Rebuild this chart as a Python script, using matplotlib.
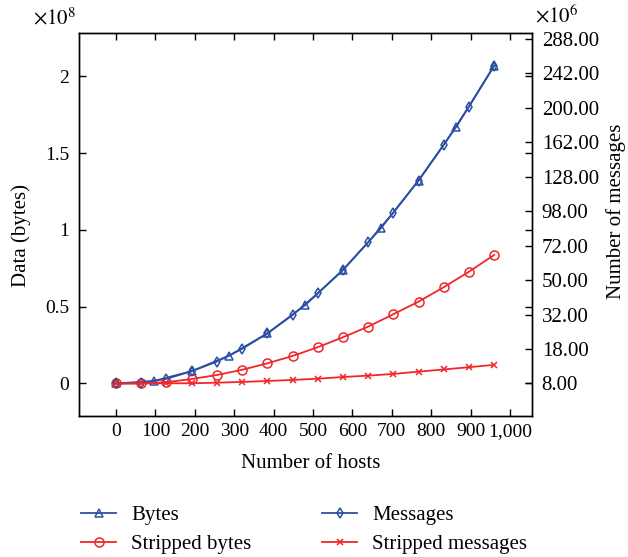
import numpy as np
import matplotlib
matplotlib.use('Agg')
import matplotlib.pyplot as plt
from matplotlib.ticker import FixedLocator, FuncFormatter

plt.rcParams['font.family'] = ['Liberation Serif', 'DejaVu Serif']
plt.rcParams['mathtext.fontset'] = 'stix'
plt.rcParams['font.size'] = 15

# hosts
hosts_bytes = [0, 96, 192, 288, 384, 480, 576, 672, 768, 864, 960]
hosts_msgs = [0, 64, 128, 192, 256, 320, 384, 448, 512, 576, 640, 704, 768, 832, 896, 960]

# data in units of 1e8 bytes
bytes_e8 = [0.0, 0.016, 0.08, 0.182, 0.326, 0.51, 0.739, 1.01, 1.322, 1.673, 2.07]
stripped_bytes_e8 = [0.0, 0.0, 0.008, 0.029, 0.055, 0.089, 0.131, 0.179, 0.236,
                     0.301, 0.37, 0.451, 0.533, 0.627, 0.728, 0.837]

# messages in units of 1e6 (right axis)
messages_e6 = [8.0, 8.18, 9.10, 11.10, 13.86, 18.02, 23.83, 31.70, 42.57, 55.97,
               74.33, 96.76, 124.38, 159.10, 201.11, 251.6]
stripped_messages_e6 = [8.0, 8.0, 8.04, 8.04, 8.18, 8.36, 8.58, 8.84, 9.14, 9.57,
                        9.92, 10.36, 10.98, 11.57, 12.22, 12.89]

left_ticks = [0, 0.5, 1, 1.5, 2]
right_ticks = [8, 18, 32, 50, 72, 98, 128, 162, 200, 242, 288]
x_ticks = [0, 100, 200, 300, 400, 500, 600, 700, 800, 900, 1000]

blue = '#2c4fa3'
red = '#f0262b'

# right axis step: one tick step equals this many 1e8 on the left axis
step = 0.2246


def fwd(m):
    return np.sqrt(np.clip(m, 0, None) / 2.0) - 2.0


def inv(t):
    return 2.0 * (np.asarray(t) + 2.0) ** 2


fig = plt.figure(figsize=(6.28, 5.57), dpi=100)
ax = fig.add_axes([79 / 628, 1 - 416 / 557, 453 / 628, 383 / 557])
ax2 = ax.twinx()

l1, = ax.plot(hosts_bytes, bytes_e8, color=blue, lw=1.3, marker='^', ms=5.5,
              mfc='none', mew=1.1, label='Bytes')
l2, = ax.plot(hosts_msgs, stripped_bytes_e8, color=red, lw=1.3, marker='o', ms=6.5,
              mfc='none', mew=1.1, label='Stripped bytes')
l3, = ax2.plot(hosts_msgs, messages_e6, color=blue, lw=1.3, marker='d', ms=5.5,
               mfc='none', mew=1.1, label='Messages')
l4, = ax2.plot(hosts_msgs, stripped_messages_e6, color=red, lw=1.3, marker='x', ms=4,
               mew=1.1, label='Stripped messages')

ylo, yhi = -0.212, 2.283
ax.set_xlim(-94, 1056)
ax.set_ylim(ylo, yhi)
ax2.set_yscale('function', functions=(fwd, inv))
ax2.set_ylim(inv(ylo / step), inv(yhi / step))

ax.xaxis.set_major_locator(FixedLocator(x_ticks))
ax.xaxis.set_major_formatter(FuncFormatter(lambda v, p: f'{int(v):,}'))
ax.yaxis.set_major_locator(FixedLocator(left_ticks))
ax.yaxis.set_major_formatter(FuncFormatter(lambda v, p: f'{v:g}'))
ax2.yaxis.set_major_locator(FixedLocator(right_ticks))
ax2.yaxis.set_major_formatter(FuncFormatter(lambda v, p: f'{v:.2f}'))
ax2.yaxis.set_minor_locator(FixedLocator([]))

ax.tick_params(direction='in', length=5, width=1, top=True, right=True, pad=7,
               labelsize=14)
ax.tick_params(axis='x', pad=5)
ax2.tick_params(direction='in', length=5, width=1, pad=7, labelsize=15)

for a in (ax, ax2):
    for s in a.spines.values():
        s.set_linewidth(1.0)

ax.set_xlabel('Number of hosts', va='center')
ax.xaxis.set_label_coords(0.512, -0.123)
ax.set_ylabel('Data (bytes)', va='center')
ax.yaxis.set_label_coords(-0.128, 0.472)
ax2.set_ylabel('Number of messages', va='center')
ax2.yaxis.set_label_coords(1.186, 0.535)

fig.text(33 / 628, 1 - 24 / 557, r'$\times10^{8}$', fontsize=15)
fig.text(535 / 628, 1 - 22 / 557, r'$\times10^{6}$', fontsize=15)

fig.legend(handles=[l1, l2, l3, l4], ncol=2, frameon=False,
           loc='upper left', bbox_to_anchor=(72.7 / 628, 1 - 497 / 557),
           handlelength=1.68, handletextpad=0.72, columnspacing=3.4,
           labelspacing=0.45, borderaxespad=0)

fig.savefig('out.png', dpi=100)
